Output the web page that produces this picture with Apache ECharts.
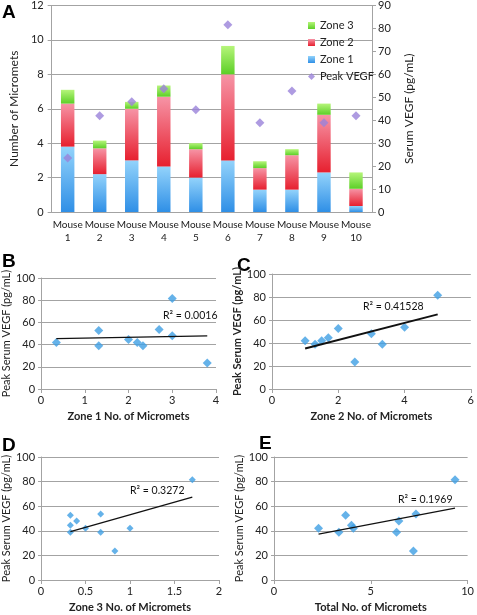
<!DOCTYPE html>
<html><head><meta charset="utf-8">
<script src="https://cdn.jsdelivr.net/npm/echarts@6/dist/echarts.min.js"></script>
<style>html,body{margin:0;padding:0;background:#fff}#c{width:477px;height:615px}</style>
</head><body><div id="c"></div>
<script>
// ---- Panel A data ----
const mice = ['Mouse\n1','Mouse\n2','Mouse\n3','Mouse\n4','Mouse\n5','Mouse\n6','Mouse\n7','Mouse\n8','Mouse\n9','Mouse\n10'];
const zone1 = [3.8, 2.2, 3.0, 2.65, 2.0, 3.0, 1.3, 1.3, 2.3, 0.35];
const zone2 = [2.5, 1.5, 3.0, 4.05, 1.65, 5.0, 1.25, 2.0, 3.35, 1.0];
const zone3 = [0.8, 0.45, 0.4, 0.65, 0.35, 1.65, 0.4, 0.35, 0.65, 0.95];
const peakVEGF = [23.5, 42.0, 48.0, 53.7, 44.6, 81.6, 38.9, 52.7, 38.9, 42.0];
const leftTicks = [0, 12, 2];   // min, max, interval
const rightTicks = [0, 90, 10];

// ---- Scatter panels: [x, VEGF] ----
const ptsB = [[0.35,42],[1.32,52.7],[1.32,38.9],[2.0,44.6],[2.2,42],[2.33,38.9],[2.7,53.7],[3.0,81.6],[3.0,48],[3.8,23.5]];
const ptsC = [[1.0,42],[1.3,38.9],[1.5,42],[1.7,44.6],[2.0,52.7],[2.5,23.5],[3.0,48],[3.33,38.9],[4.0,53.7],[5.0,81.6]];
const ptsD = [[0.33,52.7],[0.33,44.6],[0.33,38.9],[0.4,48],[0.5,42],[0.67,53.7],[0.67,38.9],[0.83,23.5],[1.0,42],[1.7,81.6]];
const ptsE = [[2.3,42],[3.35,38.9],[3.7,52.7],[4.0,44.6],[4.1,42],[6.33,38.9],[6.45,48],[7.2,23.5],[7.33,53.7],[9.35,81.6]];
const trendB = [[0.35,45.4],[3.8,47.9]];
const trendC = [[1.0,35.2],[5.0,64.9]];
const trendD = [[0.33,39.3],[1.7,67.3]];
const trendE = [[2.3,37.3],[9.35,58.4]];
const r2B = 'R² = 0.0016', r2C = 'R² = 0.41528', r2D = 'R² = 0.3272', r2E = 'R² = 0.1969';
const xTitles = ['Zone 1 No. of Micromets','Zone 2 No. of Micromets','Zone 3 No. of Micromets','Total No. of Micromets'];
const xMax = [4, 6, 2, 10], xInt = [1, 2, 0.5, 5];

const FONT = 'Lato,"Liberation Sans",sans-serif';
const grey = '#a3a3a3';
const grad = (a,b)=>({type:'linear',x:0,y:0,x2:0,y2:1,colorStops:[{offset:0,color:a},{offset:1,color:b}]});

const grids = [
  {left:48, top:4, width:324, height:208},
  {left:40, top:278, width:176, height:111},
  {left:272, top:274, width:202, height:115},
  {left:41, top:457, width:178, height:123},
  {left:274, top:457, width:195, height:123}
];

const xAxes = [{
  type:'category', data:mice, gridIndex:0,
  axisLine:{lineStyle:{color:grey}}, axisTick:{lineStyle:{color:grey},length:4},
  axisLabel:{color:'#222',fontFamily:FONT,fontSize:10,lineHeight:13,margin:6,interval:0}
}];
const yAxes = [
  {type:'value', gridIndex:0, min:leftTicks[0], max:leftTicks[1], interval:leftTicks[2],
   name:'Number of Micromets', nameLocation:'middle', nameGap:26,
   nameTextStyle:{fontFamily:FONT,fontSize:12,color:'#222'},
   axisLine:{show:true,lineStyle:{color:grey}}, axisTick:{show:true,length:4,lineStyle:{color:grey}},
   splitLine:{lineStyle:{color:grey}},
   axisLabel:{color:'#222',fontFamily:FONT,fontSize:11,margin:8}},
  {type:'value', gridIndex:0, position:'right', min:rightTicks[0], max:rightTicks[1], interval:rightTicks[2],
   name:'Serum VEGF (pg/mL)', nameLocation:'middle', nameGap:31,
   nameTextStyle:{fontFamily:FONT,fontSize:12,color:'#222'},
   axisLine:{show:true,lineStyle:{color:grey}}, axisTick:{show:true,length:4,lineStyle:{color:grey}},
   splitLine:{show:false},
   axisLabel:{color:'#222',fontFamily:FONT,fontSize:11,margin:6}}
];
const series = [
  {name:'Zone 1', type:'bar', stack:'z', xAxisIndex:0, yAxisIndex:0, barWidth:'42%', data:zone1,
   itemStyle:{color:grad('#93d3fb','#2f8fe6')}},
  {name:'Zone 2', type:'bar', stack:'z', xAxisIndex:0, yAxisIndex:0, data:zone2,
   itemStyle:{color:grad('#f694a6','#e7202f')}},
  {name:'Zone 3', type:'bar', stack:'z', xAxisIndex:0, yAxisIndex:0, data:zone3,
   itemStyle:{color:grad('#b6f57a','#5ccf27')}},
  {name:'Peak VEGF', type:'scatter', xAxisIndex:0, yAxisIndex:1, data:peakVEGF, symbol:'diamond', symbolSize:9,
   itemStyle:{color:'#9a82da'}, z:5}
];

const pts = [ptsB, ptsC, ptsD, ptsE];
const trends = [trendB, trendC, trendD, trendE];
const yGaps = [29, 29, 29, 29];
const yBold = ['normal','bold','normal','normal'];
for (let i=0;i<4;i++){
  const g = i+1;
  xAxes.push({type:'value', gridIndex:g, min:0, max:xMax[i], interval:xInt[i],
    name:xTitles[i], nameLocation:'middle', nameGap:22,
    nameTextStyle:{fontFamily:FONT,fontSize:11,fontWeight:'bold',color:'#222'},
    axisLine:{lineStyle:{color:grey}}, axisTick:{show:true,length:4,lineStyle:{color:grey}},
    splitLine:{show:false},
    axisLabel:{color:'#222',fontFamily:FONT,fontSize:11,margin:6}});
  yAxes.push({type:'value', gridIndex:g, min:0, max:100, interval:20,
    name:'Peak Serum VEGF (pg/mL)', nameLocation:'middle', nameGap:yGaps[i],
    nameTextStyle:{fontFamily:FONT,fontSize:11,fontWeight:yBold[i],color:'#222'},
    axisLine:{show:true,lineStyle:{color:grey}}, axisTick:{show:true,length:3,lineStyle:{color:grey}},
    splitLine:{lineStyle:{color:grey}},
    axisLabel:{color:'#222',fontFamily:FONT,fontSize:11,margin:6}});
  series.push({type:'scatter', xAxisIndex:g, yAxisIndex:g+1, data:pts[i], symbol:'diamond',
    symbolSize: i===2 ? 7 : 9, itemStyle:{color:'#3f9fe3'}, z:3});
  series.push({type:'line', xAxisIndex:g, yAxisIndex:g+1, data:trends[i], symbol:'none', silent:true,
    lineStyle:{color:'#111', width: i===1 ? 2 : 1.3}, z:4});
}

const txt = (left, top, text, size, weight) => ({type:'text', left, top,
  style:{text, font: (weight||'normal')+' '+size+'px '+FONT, fill:'#111'}});
const letter = (left, top, t) => ({type:'text', left, top,
  style:{text:t, font:'bold 19px "Liberation Sans",Arial,sans-serif', fill:'#000'}});

const option = {
  animation:false,
  textStyle:{fontFamily:FONT},
  grid: grids,
  xAxis: xAxes, yAxis: yAxes, series,
  legend:{orient:'vertical', left:303, top:15, itemGap:6, itemWidth:7, itemHeight:7,
    data:[{name:'Zone 3',icon:'rect'},{name:'Zone 2',icon:'rect'},{name:'Zone 1',icon:'rect'},{name:'Peak VEGF',icon:'diamond'}],
    textStyle:{fontFamily:FONT,fontSize:11,color:'#222'}},
  graphic:[
    letter(2,3,'A'), letter(2,252,'B'), letter(237,256,'C'), letter(2,436,'D'), letter(259,434,'E'),
    txt(163,310,r2B,10.5), txt(363,301,r2C,10.5), txt(130,485,r2D,10.5), txt(398,494,r2E,10.5)
  ]
};
const chart = echarts.init(document.getElementById('c'), null, {renderer:'canvas'});
chart.setOption(option);
</script></body></html>
